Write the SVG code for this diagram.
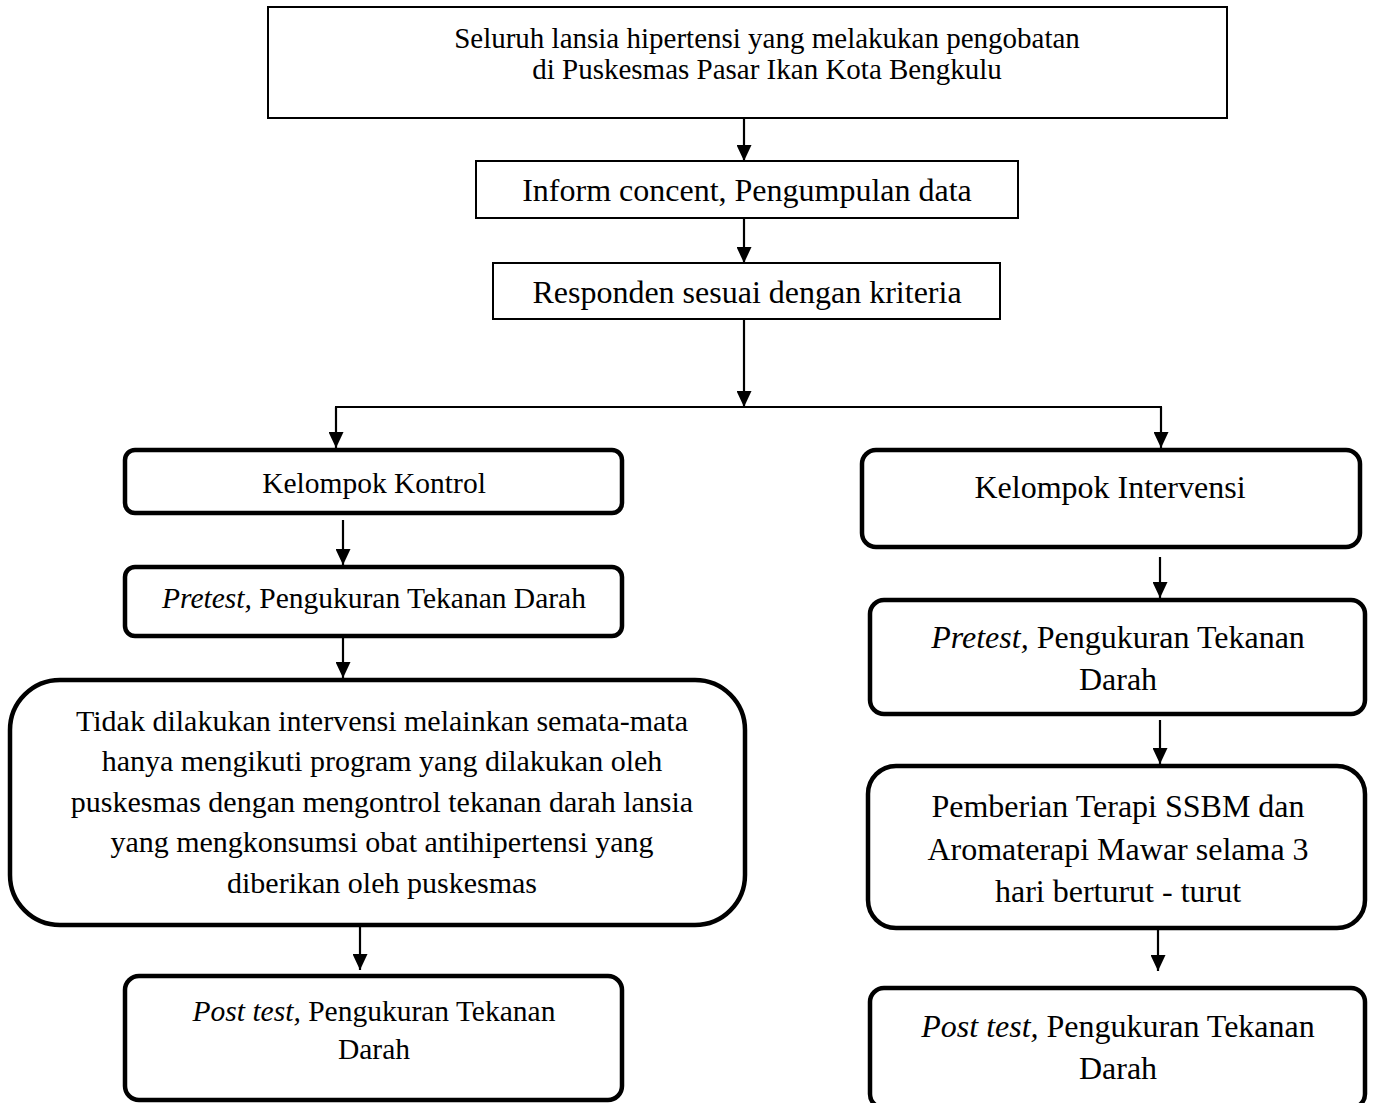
<svg xmlns="http://www.w3.org/2000/svg" width="1373" height="1103" viewBox="0 0 1373 1103">
<style>
  .t { font-family: "Liberation Serif", "Times New Roman", serif; fill: #000; text-anchor: middle; }
  .sq { fill: #fff; stroke: #000; stroke-width: 2; }
  .rd { fill: #fff; stroke: #000; stroke-width: 4.5; }
  .c { stroke: #000; stroke-width: 2.2; fill: none; }
  .i { font-style: italic; }
  .l { font-size: 29.5px; }
  .r { font-size: 32px; }
</style>
<defs>
  <marker id="ah" viewBox="0 0 16 15" refX="16" refY="7.5" markerWidth="16" markerHeight="15" markerUnits="userSpaceOnUse" orient="auto">
    <path d="M0,0 L16,7.5 L0,15 Z" fill="#000"/>
  </marker>
</defs>
<rect width="1373" height="1103" fill="#fff"/>

<g id="n1">
  <rect class="sq" x="268" y="7" width="959" height="111"/>
  <text class="t" font-size="29" x="767" y="48">Seluruh lansia hipertensi yang melakukan pengobatan</text>
  <text class="t" font-size="29" x="767" y="79">di Puskesmas Pasar Ikan Kota Bengkulu</text>
</g>
<g id="n2">
  <rect class="sq" x="476" y="161" width="542" height="57"/>
  <text class="t r" x="747" y="201">Inform concent, Pengumpulan data</text>
</g>
<g id="n3">
  <rect class="sq" x="493" y="263" width="507" height="56"/>
  <text class="t r" x="747" y="303">Responden sesuai dengan kriteria</text>
</g>
<g id="n4">
  <rect class="rd" x="125" y="450" width="497" height="63" rx="10"/>
  <text class="t l" x="374" y="493">Kelompok Kontrol</text>
</g>
<g id="n5">
  <rect class="rd" x="125" y="567" width="497" height="69" rx="10"/>
  <text class="t l" x="374" y="608"><tspan class="i">Pretest,</tspan> Pengukuran Tekanan Darah</text>
</g>
<g id="n6">
  <rect class="rd" x="10" y="680" width="735" height="245" rx="50"/>
  <text class="t" font-size="30" x="382" y="731">Tidak dilakukan intervensi melainkan semata-mata</text>
  <text class="t" font-size="30" x="382" y="771">hanya mengikuti program yang dilakukan oleh</text>
  <text class="t" font-size="30" x="382" y="812">puskesmas dengan mengontrol tekanan darah lansia</text>
  <text class="t" font-size="30" x="382" y="852">yang mengkonsumsi obat antihipertensi yang</text>
  <text class="t" font-size="30" x="382" y="893">diberikan oleh puskesmas</text>
</g>
<g id="n7">
  <rect class="rd" x="125" y="976" width="497" height="124" rx="14"/>
  <text class="t l" x="374" y="1021"><tspan class="i">Post test,</tspan> Pengukuran Tekanan</text>
  <text class="t l" x="374" y="1059">Darah</text>
</g>
<g id="n8">
  <rect class="rd" x="862" y="450" width="498" height="97" rx="14"/>
  <text class="t r" x="1110" y="498">Kelompok Intervensi</text>
</g>
<g id="n9">
  <rect class="rd" x="870" y="600" width="495" height="114" rx="14"/>
  <text class="t r" x="1118" y="648"><tspan class="i">Pretest,</tspan> Pengukuran Tekanan</text>
  <text class="t r" x="1118" y="690">Darah</text>
</g>
<g id="n10">
  <rect class="rd" x="868" y="766" width="497" height="162" rx="28"/>
  <text class="t r" x="1118" y="817">Pemberian Terapi SSBM dan</text>
  <text class="t r" x="1118" y="860">Aromaterapi Mawar selama 3</text>
  <text class="t r" x="1118" y="902">hari berturut - turut</text>
</g>
<g id="n11">
  <rect class="rd" x="870" y="988" width="495" height="120" rx="14"/>
  <text class="t r" x="1118" y="1037"><tspan class="i">Post test,</tspan> Pengukuran Tekanan</text>
  <text class="t r" x="1118" y="1079">Darah</text>
</g>

<g id="connectors">
  <line class="c" x1="744" y1="118" x2="744" y2="161" marker-end="url(#ah)"/>
  <line class="c" x1="744" y1="218" x2="744" y2="263" marker-end="url(#ah)"/>
  <line class="c" x1="744" y1="319" x2="744" y2="407" marker-end="url(#ah)"/>
  <line class="c" x1="335" y1="407" x2="1162" y2="407"/>
  <line class="c" x1="336" y1="407" x2="336" y2="448" marker-end="url(#ah)"/>
  <line class="c" x1="1161" y1="407" x2="1161" y2="448" marker-end="url(#ah)"/>
  <line class="c" x1="343" y1="520" x2="343" y2="565" marker-end="url(#ah)"/>
  <line class="c" x1="1160" y1="557" x2="1160" y2="598" marker-end="url(#ah)"/>
  <line class="c" x1="343" y1="636" x2="343" y2="678" marker-end="url(#ah)"/>
  <line class="c" x1="1160" y1="720" x2="1160" y2="764" marker-end="url(#ah)"/>
  <line class="c" x1="360" y1="925" x2="360" y2="970" marker-end="url(#ah)"/>
  <line class="c" x1="1158" y1="928" x2="1158" y2="971" marker-end="url(#ah)"/>
</g>
</svg>
